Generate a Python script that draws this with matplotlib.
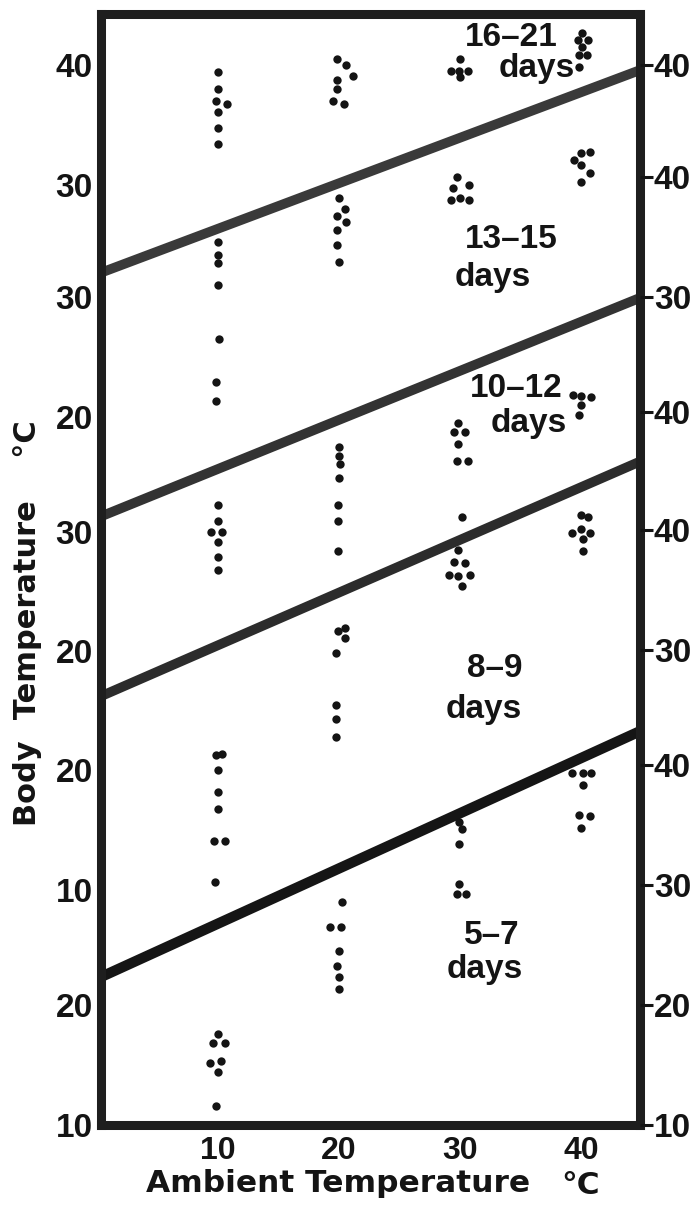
import matplotlib
matplotlib.use("Agg")
import matplotlib.pyplot as plt

# ---------------- data ----------------
ambient_ticks = [10, 20, 30, 40]
ambient_labels = ["10", "20", "30", "40"]

# age groups (top band to bottom band)
band_names = ["16\u201321", "13\u201315", "10\u201312", "8\u20139", "5\u20137"]

# vertical offset of each band's own body-temperature scale on the stacked chart
band_offset = [48.3, 39.0, 19.4, 9.5, -10.1]

# body-temperature scale labels of each band (left and right side)
left_scale = [[40, 30], [30, 20], [30, 20], [20, 10], [20, 10]]
right_scale = [[40], [40, 30], [40], [40, 30], [40, 30, 20, 10]]

# band 1: 16-21 days
amb_16_21 = [10, 10, 9.9, 10.8, 10, 10, 10,
             19.85, 20.6, 21.15, 19.85, 19.85, 19.5, 20.4,
             30, 29.25, 29.9, 30.6, 30,
             40, 39.7, 40.5, 40, 39.8, 40.4, 39.8]
body_16_21 = [39.4, 38.0, 37.0, 36.8, 36.1, 34.8, 33.4,
              40.5, 40.0, 39.1, 38.8, 38.0, 37.0, 36.8,
              40.5, 39.5, 39.5, 39.5, 39.0,
              42.7, 42.1, 42.1, 41.5, 40.9, 40.9, 39.9]

# band 2: 13-15 days
amb_13_15 = [10, 10, 10, 10, 10.1, 9.9, 9.9,
             20.0, 20.5, 19.8, 20.6, 19.8, 19.8, 20.0,
             29.75, 29.4, 30.75, 29.25, 30.0, 30.75,
             39.9, 40.65, 39.35, 39.9, 40.65, 39.9]
body_13_15 = [34.6, 33.5, 32.8, 31.0, 26.5, 22.9, 21.3,
              38.25, 37.3, 36.7, 36.25, 35.6, 34.3, 32.9,
              40.0, 39.1, 39.3, 38.1, 38.25, 38.1,
              42.0, 42.1, 41.4, 41.0, 40.3, 39.6]

# band 3: 10-12 days
amb_10_12 = [10, 10, 9.5, 10.4, 10, 10, 10,
             20, 20, 20.1, 20, 19.9, 19.9, 19.9,
             29.8, 29.5, 30.4, 29.8, 29.7, 30.6, 30.1,
             39.25, 39.9, 40.8, 39.9, 39.8]
body_10_12 = [32.2, 30.85, 30.0, 30.0, 29.1, 27.9, 26.8,
              37.1, 36.3, 35.6, 34.5, 32.2, 30.85, 28.4,
              39.1, 38.35, 38.35, 37.3, 35.85, 35.85, 31.2,
              41.4, 41.35, 41.2, 40.6, 39.7]

# band 4: 8-9 days
amb_8_9 = [10.4, 9.9, 10, 10, 10, 9.7, 10.65, 9.75,
           20.5, 19.9, 20.5, 19.75, 19.75, 19.75, 19.75,
           29.8, 29.5, 30.4, 29.1, 30.8, 29.8, 30.1,
           39.9, 40.5, 39.2, 39.9, 40.65, 40.1, 40.1]
body_8_9 = [21.35, 21.25, 20.0, 18.2, 16.8, 14.1, 14.1, 10.7,
            31.9, 31.6, 31.0, 29.8, 25.4, 24.3, 22.75,
            38.4, 37.4, 37.3, 36.3, 36.3, 36.2, 35.4,
            41.3, 41.1, 39.8, 40.1, 39.8, 39.25, 38.25]

# band 5: 5-7 days
amb_5_7 = [10, 9.6, 10.65, 9.4, 10.25, 10, 9.9,
           20.25, 19.25, 20.15, 20, 19.85, 20, 20,
           29.9, 30.1, 29.9, 29.9, 29.75, 30.5,
           39.2, 40.1, 40.8, 40.1, 39.75, 40.65, 39.9]
body_5_7 = [17.6, 16.8, 16.8, 15.2, 15.3, 14.4, 11.6,
            28.6, 26.5, 26.5, 24.5, 23.3, 22.35, 21.35,
            35.3, 34.7, 33.4, 30.1, 29.3, 29.3,
            39.4, 39.35, 39.35, 38.35, 35.9, 35.8, 34.8]

band_amb = [amb_16_21, amb_13_15, amb_10_12, amb_8_9, amb_5_7]
band_body = [body_16_21, body_13_15, body_10_12, body_8_9, body_5_7]

# band dividers (stacked chart units) at the left and right frame edges
divider_left = [71.0, 50.67, 35.67, 12.25]
divider_right = [87.9, 68.9, 55.25, 32.75]

# ---------------- figure ----------------
W, H, DPI = 700, 1214, 100
X0, X1 = 0.4, 44.8
Y0, Y1 = 0.0, 92.58
INK = "#141414"
NUM_FONT = ["Liberation Sans", "DejaVu Sans"]
TXT_FONT = ["DejaVu Sans"]

plt.rcParams["font.family"] = ["DejaVu Sans"]

fig = plt.figure(figsize=(W / DPI, H / DPI), dpi=DPI)
ax = fig.add_axes([101 / W, 89 / H, 539 / W, 1111 / H])
ax.set_xlim(X0, X1)
ax.set_ylim(Y0, Y1)

# dividers
line_cols = ["#3a3a3a", "#333333", "#2c2c2c", "#151515"]
line_w = [7.0, 7.0, 7.0, 7.5]
for yl, yr, c, lw in zip(divider_left, divider_right, line_cols, line_w):
    slope = (yr - yl) / (X1 - X0)
    xa, xb = X0 - 2, X1 + 2
    ax.plot([xa, xb], [yl + slope * (xa - X0), yl + slope * (xb - X0)],
            color=c, lw=lw, solid_capstyle="butt", zorder=2)

# points
for amb, body, off in zip(band_amb, band_body, band_offset):
    ax.scatter(amb, [b + off for b in body], s=36, color=INK,
               linewidths=0, zorder=3)

# band labels
label_pos = [(34.2, 90.6), (34.2, 73.8), (34.6, 61.3), (32.8, 38.0), (32.6, 15.7)]
days_pos = [(36.3, 88.0), (32.7, 70.6), (35.6, 58.4), (31.9, 34.6), (32.0, 12.9)]
for name, (lx, ly), (dx, dy) in zip(band_names, label_pos, days_pos):
    ax.text(lx, ly, name, ha="center", va="center", fontsize=24,
            family=NUM_FONT, fontweight="bold", color=INK, zorder=4)
    ax.text(dx, dy, "days", ha="center", va="center", fontsize=24,
            family=NUM_FONT, fontweight="bold", color=INK, zorder=4)

# frame
for sp in ax.spines.values():
    sp.set_linewidth(6.5)
    sp.set_color("#1e1e1e")
    sp.set_zorder(5)

# x ticks
ax.set_xticks(ambient_ticks)
ax.set_xticklabels(ambient_labels, fontsize=23, fontweight="bold",
                   family=NUM_FONT, color=INK)
ax.tick_params(axis="x", length=0, pad=8)

# left scale
lpos, llab = [], []
for vals, off in zip(left_scale, band_offset):
    for v in vals:
        lpos.append(v + off)
        llab.append(str(v))
ax.set_yticks(lpos)
ax.set_yticklabels(llab, fontsize=24, fontweight="bold", family=NUM_FONT,
                   color=INK)
ax.tick_params(axis="y", length=0, pad=6)

# right scale
ax2 = ax.twinx()
ax2.set_ylim(Y0, Y1)
rpos, rlab = [], []
for vals, off in zip(right_scale, band_offset):
    for v in vals:
        rpos.append(v + off)
        rlab.append(str(v))
ax2.set_yticks(rpos)
ax2.set_yticklabels(rlab, fontsize=24, fontweight="bold", family=NUM_FONT,
                    color=INK)
ax2.tick_params(axis="y", length=9, width=2.2, pad=1.0, color=INK)
for sp in ax2.spines.values():
    sp.set_visible(False)

# axis titles
fig.text(28 / W, 1 - 623 / H, "Body  Temperature    \u00b0C", rotation=90,
         ha="center", va="center", fontsize=22, fontweight="bold",
         family=TXT_FONT, color=INK)
fig.text(338 / W, 1 - 1192 / H, "Ambient Temperature",
         ha="center", va="baseline", fontsize=22.5, fontweight="bold",
         family=TXT_FONT, color=INK)
fig.text(581 / W, 1 - 1194 / H, "\u00b0C",
         ha="center", va="baseline", fontsize=22.5, fontweight="bold",
         family=TXT_FONT, color=INK)

fig.savefig("out.png", dpi=DPI, facecolor="white")
